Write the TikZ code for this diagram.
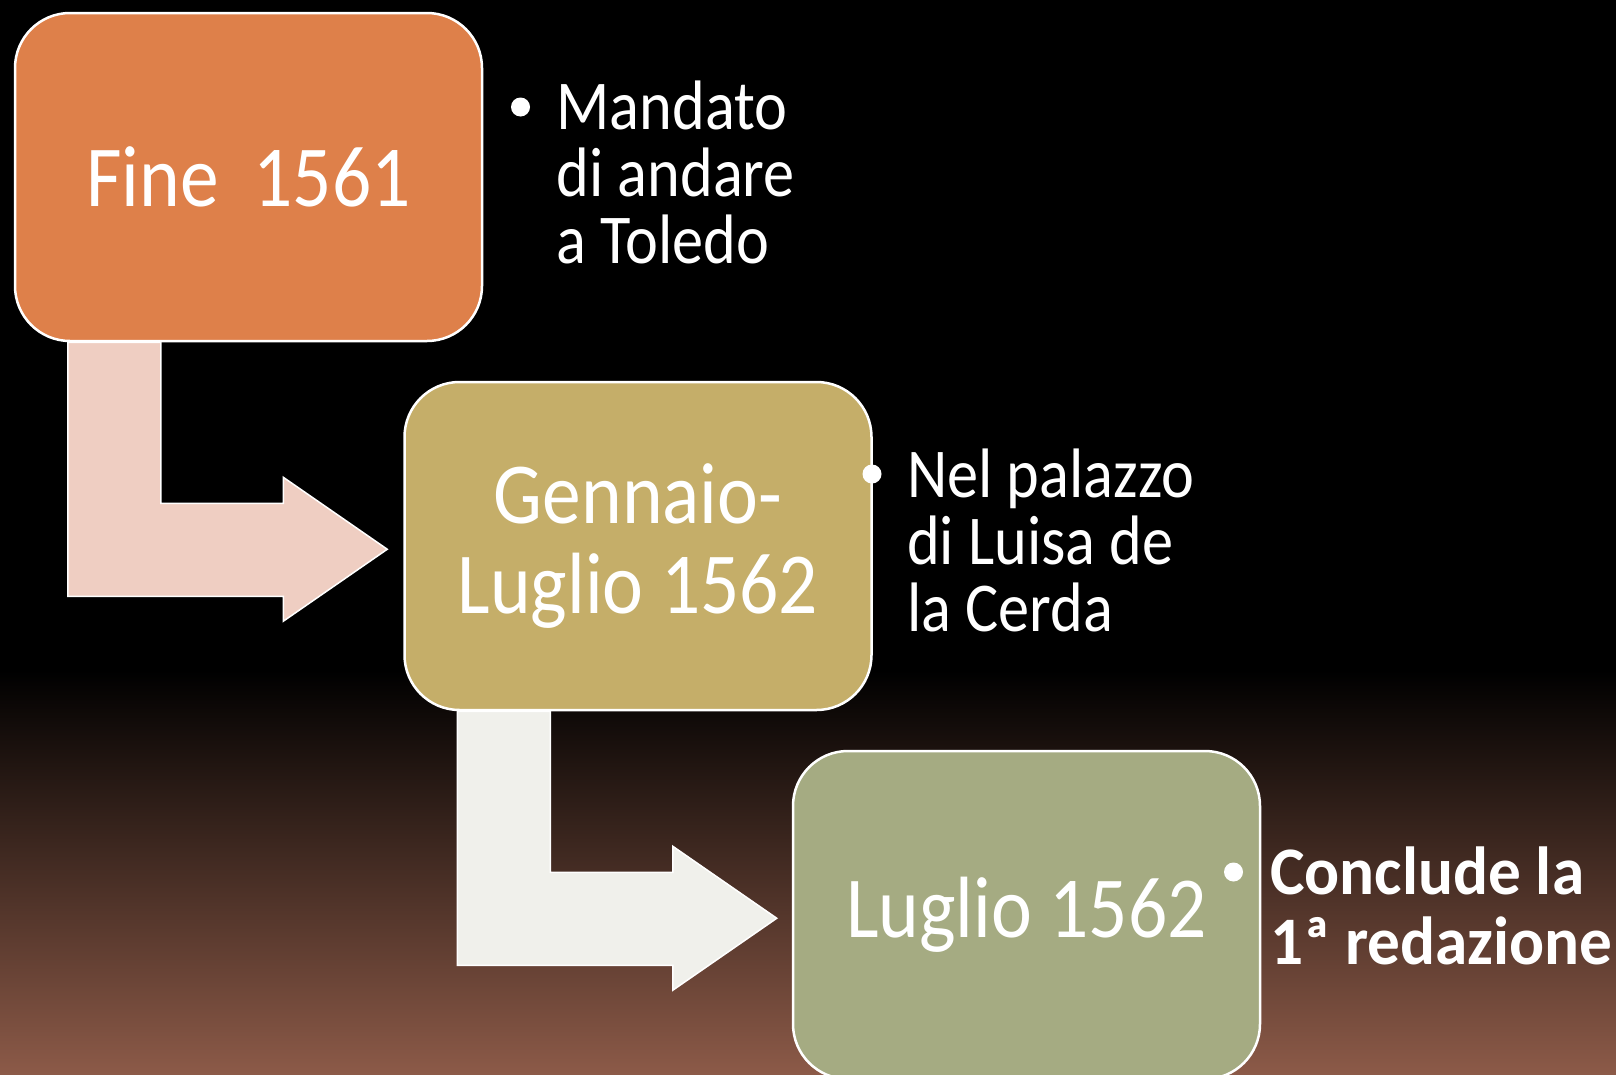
\documentclass[tikz,border=0pt]{standalone}
\usepackage{fontspec}
\setmainfont{Carlito}[FakeStretch=0.89,BoldFeatures={FakeStretch=0.96}]
\usepackage{xcolor}
\usepackage{tikz}
\usetikzlibrary{positioning,calc}

\definecolor{finecol}{HTML}{DE804A}
\definecolor{gennaiocol}{HTML}{C5AE69}
\definecolor{lugliocol}{HTML}{A5AB82}
\definecolor{arrowpink}{HTML}{EFCEC2}
\definecolor{arrowgrey}{HTML}{F0F0EB}
\definecolor{bgbrown}{HTML}{8C5A48}

\tikzset{
  datebox/.style={draw=white, line width=2.5pt, rounded corners=55pt,
    minimum width=467pt, minimum height=328pt, inner sep=0pt,
    text=white, align=center, font=\fontsize{87}{90}\selectfont},
  bentarrow/.style={draw=white, line width=1.5pt},
  note/.style={text=white, align=left, anchor=base west, inner sep=0pt,
    font=\fontsize{70}{67}\selectfont},
  bulletdot/.style={circle, fill=white, minimum size=19pt, inner sep=0pt},
}

\begin{document}
\begin{tikzpicture}[x=1pt,y=-1pt]
    % Background
    \useasboundingbox (0,0) rectangle (1616,1074);
    \fill[black] (0,0) rectangle (1616,1074);
    \shade[top color=black, bottom color=bgbrown] (0,670) rectangle (1616,1074);

    % Date boxes
    \node[datebox, fill=finecol] (b1) at (248.5,177) {Fine~~1561};
    \node[datebox, fill=gennaiocol, below right=38.5pt and -80pt of b1] (b2) {Gennaio-\\Luglio 1562};
    \node[datebox, fill=lugliocol, below right=38.5pt and -81pt of b2] (b3) {Luglio 1562};

    % Bent arrows
    \foreach \a/\c in {b1/arrowpink, b2/arrowgrey} {
        \draw[bentarrow, fill=\c] ($(\a.south west)+(54,0)$) -- ++(93,0) -- ++(0,161)
            -- ++(122.5,0) -- ++(0,-26) -- ++(104,72) -- ++(-104,72) -- ++(0,-25)
            -- ++(-215.5,0) -- cycle;
    }

    % Notes (base = last line)
    \node[bulletdot] (d1) at (520.5,107) {};
    \node[note] (t1) at (556.5,263) {Mandato\\di andare\\a Toledo};
    \node[bulletdot] (d2) at (872,474) {};
    \node[note] (t2) at (907,631) {Nel palazzo\\di Luisa de\\la Cerda};
    \node[bulletdot] (d3) at (1233.5,872) {};
    \node[note, font=\bfseries\fontsize{68}{70}\selectfont] (t3) at (1270,964.5) {Conclude la\\1ª redazione};
\end{tikzpicture}
\end{document}
